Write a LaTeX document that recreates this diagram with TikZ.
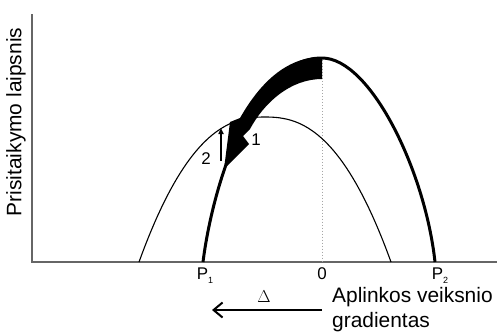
\documentclass[tikz,border=0pt]{standalone}
\usepackage{fontspec}
\setmainfont{Liberation Sans}
\usetikzlibrary{arrows.meta}
\definecolor{axisgray}{gray}{0.4}
\newcommand{\lowsub}[1]{\raisebox{-4bp}{\fontsize{9}{9}\selectfont #1}}
\tikzset{
  axis/.style={draw=axisgray,line width=1.6bp},
  thinc/.style={line width=1.1bp},
  thickc/.style={line width=3bp},
  lbl/.style={inner sep=0pt,font=\fontsize{17}{17}\selectfont},
  big/.style={inner sep=0pt,font=\fontsize{21}{25}\selectfont,align=left},
}
\begin{document}
\begin{tikzpicture}[x=1bp,y=-1bp]
\useasboundingbox (0,0) rectangle (497,335);
% axes
\draw[axis] (32,14) -- (32,262) -- (497,262);
\draw[dotted,gray!70,line width=1bp] (322,60) -- (322,261);
% narrow curve
\draw[thinc] plot[domain=139:391,samples=80] (\x,{117+145*pow(abs(\x-265)/126,2.4)});
% shifted curve
\draw[thickc] (203,262) .. controls (212,190) and (250,58) .. (322,58);
\draw[thickc] (322,58) .. controls (370,58) and (425,170) .. (435,262);
% shift arrow
\fill (322,57) .. controls (282,57) and (256,90) .. (240,118) -- (230,122)
  -- (224,169) -- (249,144) -- (243,136) -- (250,129)
  .. controls (264,103) and (290,79) .. (322,79) -- cycle;
\draw[line width=1.5bp,-{Triangle[length=6bp,width=5bp]}] (221,161) -- (221,128);
% labels
\node[lbl] (one) at (256,140) {1};
\node[lbl] (two) at (206,159) {2};
\node[lbl,rotate=90,font=\fontsize{21}{21}\selectfont] (ylab) at (16,122) {Prisitaikymo laipsnis};
\node[lbl,anchor=base] (pone) at (205,279) {P\lowsub{1}};
\node[lbl,anchor=base] (zero) at (322,279) {0};
\node[lbl,anchor=base] (ptwo) at (440,279) {P\lowsub{2}};
\node[big,anchor=north west] (grad) at (332,287) {Aplinkos veiksnio\\gradientas};
\node[lbl] (delta) at (264,297) {$\Delta$};
\coordinate (dstart) at (322,310);
\coordinate (dend) at (212,310);
\draw[line width=2bp,-{Straight Barb[length=9bp,width=15bp,line width=2bp]}] (dstart) -- (dend);
\end{tikzpicture}
\end{document}
